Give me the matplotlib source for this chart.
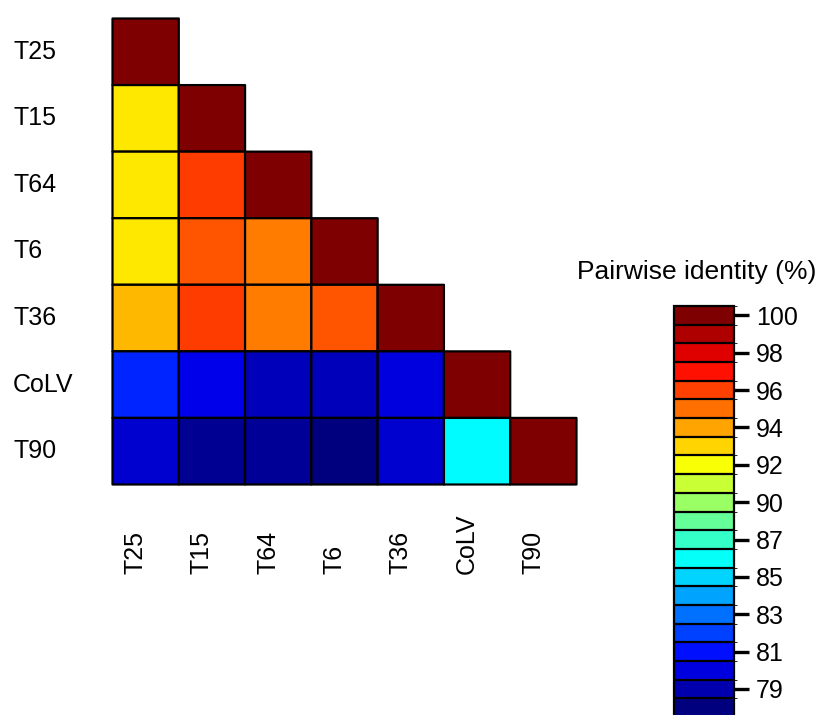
import numpy as np
import matplotlib
matplotlib.use("Agg")
import matplotlib.pyplot as plt
from matplotlib.colors import LinearSegmentedColormap, ListedColormap, BoundaryNorm, Normalize
from matplotlib.cm import ScalarMappable
from matplotlib.transforms import blended_transform_factory, ScaledTranslation

plt.rcParams['font.family'] = ['Liberation Sans', 'DejaVu Sans']

# Isolates and lower-triangle pairwise identities (%), row by row
isolates = ["T25", "T15", "T64", "T6", "T36", "CoLV", "T90"]
row_T25 = [100.0]
row_T15 = [92.2, 100.0]
row_T64 = [92.2, 95.9, 100.0]
row_T6 = [92.2, 95.4, 94.5, 100.0]
row_T36 = [93.2, 95.9, 94.5, 95.4, 100.0]
row_CoLV = [81.5, 80.3, 79.3, 79.3, 80.1, 100.0]
row_T90 = [79.7, 78.4, 78.5, 78.0, 79.7, 86.2, 100.0]
rows = [row_T25, row_T15, row_T64, row_T6, row_T36, row_CoLV, row_T90]

# Legend scale: 22 colour steps of 1.05 % from 77.95 up to 100
scale_low, scale_high, n_steps = 77.95, 100.0, 22
tick_values = [100.0, 97.9, 95.8, 93.7, 91.6, 89.5, 87.4, 85.3, 83.2, 81.1, 79.0]
tick_labels = ["100", "98", "96", "94", "92", "90", "87", "85", "83", "81", "79"]

n = len(isolates)
mat = np.full((n, n), np.nan)
for i, r in enumerate(rows):
    mat[i, :len(r)] = r
mat = np.ma.masked_invalid(mat)

jet = LinearSegmentedColormap.from_list(
    "jet_like", ["#00007F", "#0000FF", "#007FFF", "#00FFFF", "#7FFF7F",
                 "#FFFF00", "#FF7F00", "#FF0000", "#7F0000"])

fig = plt.figure(figsize=(8.24, 7.15), dpi=100)
ax = fig.add_axes([112.5 / 824, 1 - 484.5 / 715, 464 / 824, 466 / 715])
# pcolor leaves the masked upper triangle out entirely
cells = ax.pcolor(np.arange(n + 1), np.arange(n + 1), mat, cmap=jet,
                  norm=Normalize(scale_low, scale_high),
                  edgecolors="black", linewidth=1.6)
cells.set_clip_on(False)
ax.set_xlim(0, n)
ax.set_ylim(n, 0)
ax.axis("off")

# row labels on the left
row_tr = blended_transform_factory(fig.transFigure, ax.transData)
for i, name in enumerate(isolates):
    fig.text(13 / 824, i + 0.5, name, transform=row_tr, ha="left", va="center",
             fontsize=18)

# column labels, rotated, bottom aligned
col_tr = blended_transform_factory(ax.transData, ax.transAxes) + \
    ScaledTranslation(-0.10, 0, fig.dpi_scale_trans)
for j, name in enumerate(isolates):
    ax.text(j + 0.5, -0.191, name, transform=col_tr, rotation=90,
            ha="center", va="bottom", fontsize=18)

# stepped colour key
step = (scale_high - scale_low) / (n_steps - 1)
bounds = np.linspace(scale_low - step / 2, scale_high + step / 2, n_steps + 1)
key_cmap = ListedColormap(jet(np.linspace(0, 1, n_steps)))
sm = ScalarMappable(norm=BoundaryNorm(bounds, n_steps), cmap=key_cmap)
cax = fig.add_axes([674 / 824, 1 - 717 / 715, 60 / 824, 411 / 715])
cb = fig.colorbar(sm, cax=cax, drawedges=True)
cb.dividers.set_color("black")
cb.dividers.set_linewidth(1.6)
cb.outline.set_edgecolor("black")
cb.outline.set_linewidth(1.6)
cb.set_ticks(tick_values)
cb.set_ticklabels(tick_labels)
cax.tick_params(length=11, width=2.4, pad=5, labelsize=18)

fig.text(697 / 824, 1 - 272 / 715, "Pairwise identity (%)", ha="center",
         va="center", fontsize=19)

fig.savefig("out.png", dpi=100)
